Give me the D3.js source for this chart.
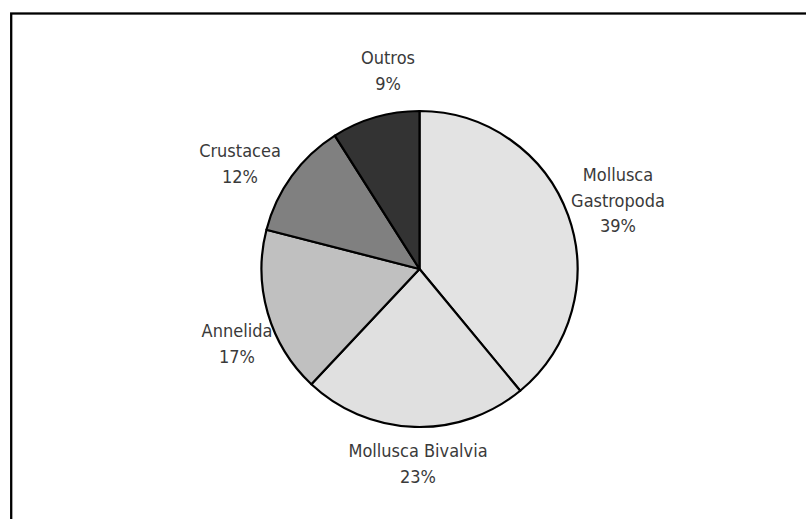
<!DOCTYPE html>
<html>
<head>
<meta charset="utf-8">
<script src="https://cdn.jsdelivr.net/npm/d3@7/dist/d3.min.js"></script>
<style>
  html, body { margin: 0; padding: 0; background: #fff; }
  svg { display: block; }
  text { font-family: "DejaVu Sans Condensed", "Liberation Sans", sans-serif; }
</style>
</head>
<body>
<svg id="chart" width="806" height="519"></svg>
<script>
const categories = ["Mollusca Gastropoda", "Mollusca Bivalvia", "Annelida", "Crustacea", "Outros"];
const values = [39, 23, 17, 12, 9];
const colors = ["#e3e3e3", "#e0e0e0", "#c0c0c0", "#808080", "#333333"];
// label lines per category
const labelLines = [["Mollusca", "Gastropoda", "39%"], ["Mollusca Bivalvia", "23%"], ["Annelida", "17%"], ["Crustacea", "12%"], ["Outros", "9%"]];
// label anchor positions (first baseline)
const labelPos = [[618, 181], [418, 457], [237, 337], [240, 157], [388, 64]];

const svg = d3.select("#chart");

// frame
svg.append("rect").attr("x", 11.2).attr("y", 13.5).attr("width", 900).attr("height", 600)
  .attr("fill", "none").attr("stroke", "#000").attr("stroke-width", 2.3);

const cx = 419.5, cy = 269, r = 158;
const data = categories.map((c, i) => ({ name: c, value: values[i], color: colors[i], lines: labelLines[i], pos: labelPos[i] }));

const pie = d3.pie().value(d => d.value).sort(null);
const arc = d3.arc().innerRadius(0).outerRadius(r);

const g = svg.append("g").attr("transform", `translate(${cx},${cy})`);
g.selectAll("path").data(pie(data)).join("path")
  .attr("d", arc)
  .attr("fill", d => d.data.color)
  .attr("stroke", "#000")
  .attr("stroke-width", 2.2)
  .attr("stroke-linejoin", "round");

const lh = 25.5;
const lab = svg.append("g");
data.forEach(d => {
  const t = lab.append("text")
    .attr("x", d.pos[0]).attr("y", d.pos[1])
    .attr("text-anchor", "middle")
    .attr("font-size", 18)
    .attr("fill", "#3a3a3a");
  d.lines.forEach((ln, j) => {
    t.append("tspan").attr("x", d.pos[0]).attr("y", d.pos[1] + j * lh).text(ln);
  });
});
</script>
</body>
</html>
